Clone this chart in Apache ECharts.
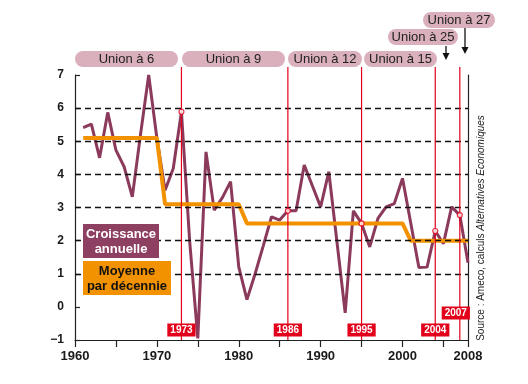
<!DOCTYPE html>
<html><head><meta charset="utf-8">
<script src="https://cdn.jsdelivr.net/npm/echarts@6/dist/echarts.min.js"></script>
<style>html,body{margin:0;padding:0;background:#fff}#c{width:528px;height:384px}</style>
</head><body><div id="c"></div>
<script>
// ---- data ----
const years = [1961,1962,1963,1964,1965,1966,1967,1968,1969,1970,
               1971,1972,1973,1974,1975,1976,1977,1978,1979,1980,
               1981,1982,1983,1984,1985,1986,1987,1988,1989,1990,
               1991,1992,1993,1994,1995,1996,1997,1998,1999,2000,
               2001,2002,2003,2004,2005,2006,2007,2008];
const growth = [5.41,5.52,4.50,5.87,4.73,4.23,3.32,5.20,7.00,5.10,
                3.52,4.18,5.89,2.00,-0.95,4.68,2.92,3.30,3.78,1.21,
                0.22,1.00,1.85,2.72,2.62,2.90,2.90,4.28,3.65,3.02,
                4.08,1.95,-0.18,2.90,2.52,1.81,2.67,3.02,3.12,3.88,
                2.54,1.19,1.20,2.29,1.91,3.02,2.77,1.33];
const decadeAvg = [5.1,5.1,5.1,5.1,5.1,5.1,5.1,5.1,5.1,5.1,
                   3.1,3.1,3.1,3.1,3.1,3.1,3.1,3.1,3.1,3.1,
                   2.52,2.52,2.52,2.52,2.52,2.52,2.52,2.52,2.52,2.52,
                   2.52,2.52,2.52,2.52,2.52,2.52,2.52,2.52,2.52,2.52,
                   2.0,2.0,2.0,2.0,2.0,2.0,2.0,2.0];
const eventYears = [1973,1986,1995,2004,2007];
const eventLabels = ['1973','1986','1995','2004','2007'];
const gridValues = [1,2,3,4,5,6];
const xLabelYears = [1960,1970,1980,1990,2000,2008];
const unionLabels = ['Union à 6','Union à 9','Union à 12','Union à 15','Union à 25','Union à 27'];
const legendLabels = ['Croissance\nannuelle','Moyenne\npar décennie'];
const sourceText = ['Source : Ameco, calculs ','Alternatives Economiques'];

// ---- styles ----
const PURPLE = '#8b3a5c', ORANGE = '#f39200', RED = '#e2001a', PILL = '#dbb0bd';
const FONT = 'Liberation Sans, Arial, sans-serif';

const chart = echarts.init(document.getElementById('c'), null, {renderer:'canvas'});
const option = {
  animation:false,
  backgroundColor:'#fff',
  grid:{left:75, right:60, top:75, bottom:44},
  xAxis:{type:'value', min:1960, max:2008, interval:5,
    axisLine:{show:true, onZero:false, lineStyle:{color:'#222', width:1.2}},
    axisTick:{show:true, length:7, lineStyle:{color:'#222', width:1.2}},
    splitLine:{show:false},
    axisLabel:{margin:10, color:'#1a1a1a', fontFamily:FONT, fontWeight:'bold', fontSize:13,
      formatter:v=> xLabelYears.indexOf(v)>=0 ? String(v) : ''}},
  yAxis:[{type:'value', min:-1, max:7, interval:1,
    axisLine:{show:true, lineStyle:{color:'#222', width:1.2}},
    axisTick:{show:true, inside:true, length:5, lineStyle:{color:'#222', width:1.2}},
    splitLine:{show:false},
    axisLabel:{margin:11, color:'#1a1a1a', fontFamily:FONT, fontWeight:'bold', fontSize:12,
      formatter:v=> v<0 ? '\u2212'+(-v) : String(v)}},
   {type:'value', min:-1, max:7, interval:1, position:'right',
    axisLine:{show:true, lineStyle:{color:'#222', width:1.2}},
    axisTick:{show:false}, axisLabel:{show:false}, splitLine:{show:false}}],
  series:[
    {type:'line', name:'grid', data:[], silent:true, z:1,
     markLine:{silent:true, symbol:'none', label:{show:false},
       lineStyle:{color:'#111', type:[6,4], width:1.4},
       data: gridValues.map(v=>({yAxis:v}))}},
    {type:'line', name:'Croissance annuelle', data: years.map((y,i)=>[y,growth[i]]),
     showSymbol:false, z:3, lineStyle:{color:PURPLE, width:3}, itemStyle:{color:PURPLE}},
    {type:'line', name:'Moyenne', data: years.map((y,i)=>[y,decadeAvg[i]]),
     showSymbol:false, z:4, lineStyle:{color:ORANGE, width:4}, itemStyle:{color:ORANGE}},
    {type:'scatter', data: eventYears.map(y=>[y, growth[years.indexOf(y)]]), z:7,
     symbolSize:5, itemStyle:{color:'#fff', borderColor:RED, borderWidth:1.2}}
  ]
};
chart.setOption(option);

const px = (x,y)=>chart.convertToPixel({gridIndex:0},[x,y]);
const bottomY = px(1960,-1)[1];
const gfx = [];
// event lines and labels
eventYears.forEach((yr,i)=>{
  const x = px(yr,0)[0];
  gfx.push({type:'line', z:5, shape:{x1:x, y1:67, x2:x, y2:bottomY}, style:{stroke:RED, lineWidth:1.2}});
  const last = i===eventYears.length-1;
  gfx.push({type:'text', z:8, style:{text:eventLabels[i], x: last ? x-4 : x, y: last ? bottomY-27 : bottomY-10,
    align:'center', verticalAlign:'middle', fill:'#fff', font:'bold 10px '+FONT,
    backgroundColor:RED, padding:[2,3,1,3]}});
});
// union pills
const pills = [
  {t:unionLabels[0], x:75, y:51, w:103},
  {t:unionLabels[1], x:182, y:51, w:103},
  {t:unionLabels[2], x:288, y:51, w:74},
  {t:unionLabels[3], x:364, y:51, w:73},
  {t:unionLabels[4], x:388, y:29, w:70},
  {t:unionLabels[5], x:423, y:12, w:72}
];
pills.forEach(p=>{
  gfx.push({type:'rect', shape:{x:p.x, y:p.y, width:p.w, height:16, r:8}, style:{fill:PILL}});
  gfx.push({type:'text', style:{text:p.t, x:p.x+p.w/2, y:p.y+8.5, align:'center', verticalAlign:'middle',
    fill:'#222', font:'13px '+FONT}});
});
// arrows
[[446,46,60],[465,28,54]].forEach(a=>{
  gfx.push({type:'line', shape:{x1:a[0], y1:a[1], x2:a[0], y2:a[2]-5}, style:{stroke:'#111', lineWidth:1.3}});
  gfx.push({type:'polygon', shape:{points:[[a[0]-3.5,a[2]-7],[a[0]+3.5,a[2]-7],[a[0],a[2]]]}, style:{fill:'#111'}});
});
// legend boxes
gfx.push({type:'rect', z:9, shape:{x:83, y:224, width:76, height:34}, style:{fill:'#8e4062'}});
gfx.push({type:'text', z:10, style:{text:legendLabels[0], x:121, y:241.5, align:'center', verticalAlign:'middle',
  fill:'#fff', font:'bold 13px '+FONT, lineHeight:15}});
gfx.push({type:'rect', z:9, shape:{x:83, y:261, width:88, height:34}, style:{fill:ORANGE}});
gfx.push({type:'text', z:10, style:{text:legendLabels[1], x:127, y:278.5, align:'center', verticalAlign:'middle',
  fill:'#111', font:'bold 13px '+FONT, lineHeight:15}});
// source
gfx.push({type:'text', rotation:Math.PI/2, x:481, y:228, style:{
  text:'{a|'+sourceText[0]+'}{b|'+sourceText[1]+'}', align:'center', verticalAlign:'middle',
  rich:{a:{fontSize:10, fontFamily:FONT, fill:'#222'}, b:{fontSize:10, fontFamily:FONT, fontStyle:'italic', fill:'#222'}}}});
chart.setOption({graphic:gfx});
</script></body></html>
